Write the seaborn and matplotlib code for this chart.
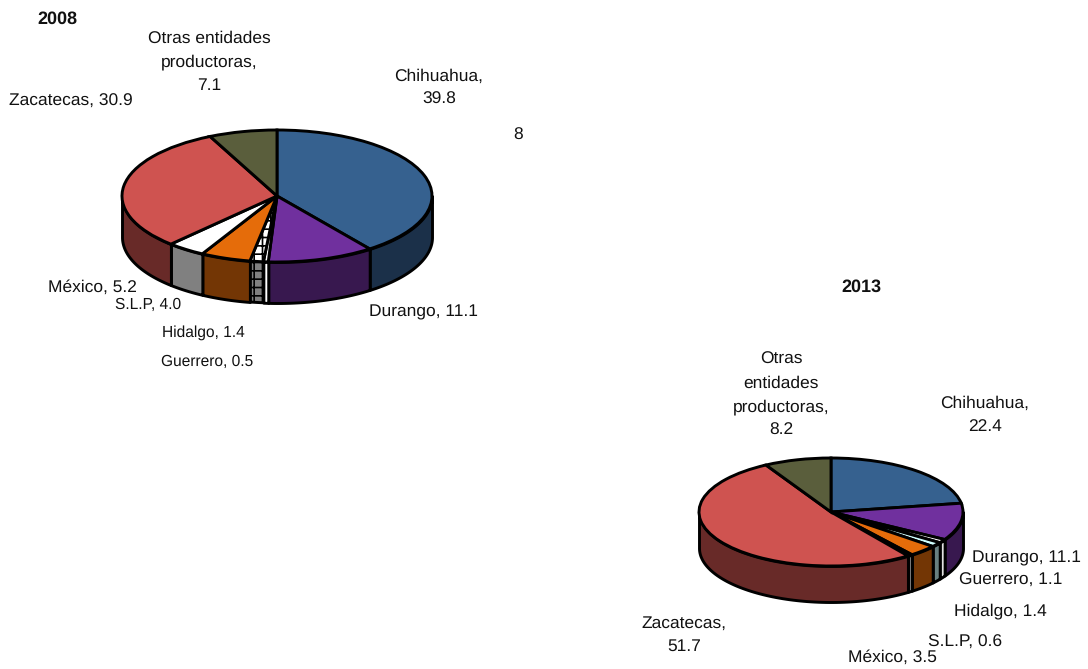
import numpy as np
import matplotlib
matplotlib.use("Agg")
import matplotlib.pyplot as plt
import seaborn as sns

sns.set_theme(style="white")
plt.rcParams['font.family'] = ['Liberation Sans', 'DejaVu Sans']
plt.rcParams['hatch.linewidth'] = 1.2
plt.rcParams['text.hinting'] = 'no_hinting'

W, H = 1088, 669

states = ["Chihuahua", "Durango", "Guerrero", "Hidalgo", "México", "S.L.P", "Zacatecas", "Otras"]
values_2008 = [39.8, 11.1, 0.5, 1.4, 5.2, 4.0, 30.9, 7.1]
top_2008 = ["#36618F", "#70309E", "#FFFFFF", "#FFFFFF", "#E56C0A", "#FFFFFF", "#CF5350", "#5A5E3C"]
side_2008 = ["#1B3049", "#38184F", "#FFFFFF", "#808080", "#733605", "#808080", "#682A28", "#2D2F1E"]
hatch_2008 = [None, None, None, "++", None, None, None, None]

values_2013 = [22.4, 11.1, 1.1, 1.4, 3.5, 0.6, 51.7, 8.2]
top_2013 = ["#36618F", "#70309E", "#FFFFFF", "#D0FFFF", "#E56C0A", "#FFFFFF", "#CF5350", "#5A5E3C"]
side_2013 = ["#1B3049", "#38184F", "#E0E0E0", "#688080", "#733605", "#808080", "#682A28", "#2D2F1E"]
hatch_2013 = [None] * 8

fig = plt.figure(figsize=(W / 100, H / 100), dpi=100)


def pie3d(values, tops, sides, hatches, cx, cy, a, b, depth):
    ax = fig.add_axes([(cx - a - 4) / W, 1 - (cy + b + depth + 4) / H,
                       (2 * a + 8) / W, (2 * b + depth + 8) / H])
    ax.pie(values, colors=tops, startangle=90, counterclock=False, radius=1, hatch=hatches,
           wedgeprops=dict(edgecolor="black", linewidth=2.1, zorder=3))
    d = depth / b
    ends = 90 - 3.6 * np.cumsum(values)
    starts = np.r_[90, ends[:-1]]
    for s, e, col, h in zip(starts, ends, sides, hatches):
        # visible wall: the part of the slice on the front half of the ellipse
        lo, hi = max(e, -180), min(s, 0)
        if lo >= hi:
            continue
        t = np.radians(np.linspace(lo, hi, 80))
        ax.fill_between(np.cos(t), np.sin(t), np.sin(t) - d, facecolor=col,
                        edgecolor="black", linewidth=2.1, hatch=h, zorder=2)
    ax.set_aspect("auto")
    ax.set_xlim(-(a + 4) / a, (a + 4) / a)
    ax.set_ylim(-(b + depth + 4) / b, (b + 4) / b)
    ax.axis("off")


def label(x, y, s, size=12.5, weight="normal"):
    fig.text(x / W, 1 - y / H, s, ha="center", va="center", fontsize=size,
             fontweight=weight, color="#111111", linespacing=1.62)


pie3d(values_2008, top_2008, side_2008, hatch_2008, 277, 196, 155, 66, 41)
pie3d(values_2013, top_2013, side_2013, hatch_2013, 831, 512, 132, 54, 36)

label(57, 19, "2008", size=13, weight="bold")
label(209, 62, "Otras entidades\nproductoras,\n7.1")
label(71, 101, "Zacatecas, 30.9")
label(439, 88, "Chihuahua,\n39.8")
label(518, 135, "8")
label(92, 287, "México, 5.2")
label(148, 305, "S.L.P, 4.0", size=11.2)
label(203, 333, "Hidalgo, 1.4", size=11.2)
label(207, 362, "Guerrero, 0.5", size=11.2)
label(423, 312, "Durango, 11.1")

label(861, 287, "2013", size=13, weight="bold")
label(781, 395, "Otras\nentidades\nproductoras,\n8.2")
label(985, 415, "Chihuahua,\n22.4")
label(1026, 558, "Durango, 11.1")
label(1011, 580, "Guerrero, 1.1")
label(1000, 611, "Hidalgo, 1.4")
label(965, 642, "S.L.P, 0.6")
label(892, 657, "México, 3.5")
label(684, 635, "Zacatecas,\n51.7")

fig.savefig("out.png", dpi=100, facecolor="white")
